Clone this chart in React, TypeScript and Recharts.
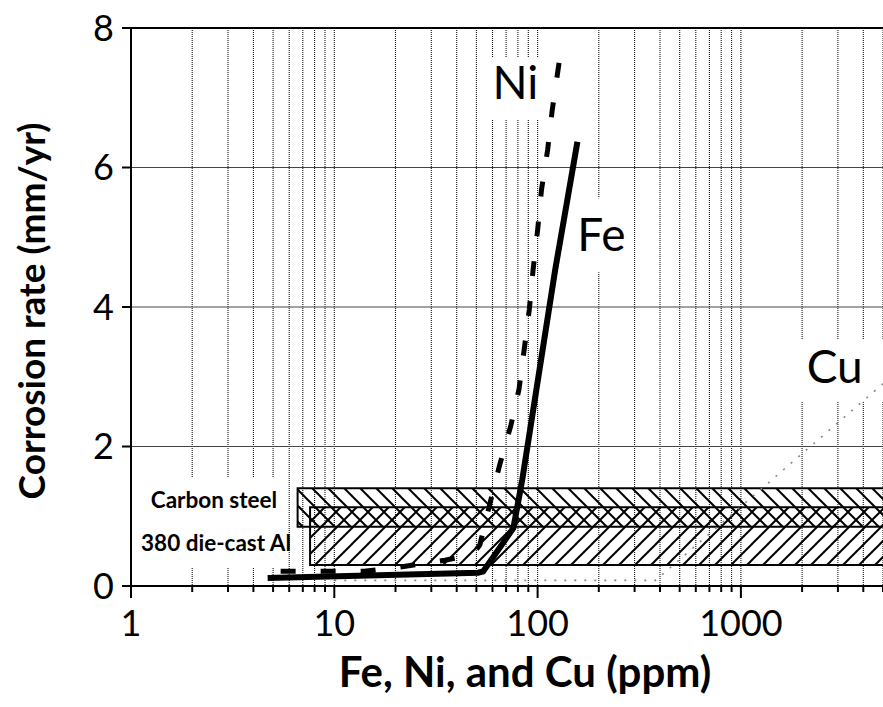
import React from "react";
import {
  LineChart,
  Line,
  XAxis,
  YAxis,
  CartesianGrid,
  ReferenceArea,
  ReferenceLine,
  ReferenceDot,
  Label,
} from "recharts";

// ppm on a log axis, corrosion rate in mm/yr
const FE_PPM = [4.7, 51, 54, 76, 84, 122, 157];
const FE_RATE = [0.115, 0.19, 0.21, 0.83, 1.52, 4.53, 6.37];

const NI_PPM = [4.7, 14, 21, 35, 48, 52, 58, 65, 74, 81, 86, 91, 95, 100, 104.5, 112, 118, 127.5];
const NI_RATE = [0.21, 0.21, 0.27, 0.37, 0.45, 0.59, 1.16, 1.73, 2.31, 2.82, 3.4, 3.96, 4.53, 5.1, 5.68, 6.25, 6.82, 7.5];

const CU_PPM = [10, 380, 5000];
const CU_RATE = [0.08, 0.08, 2.9];

const X_TICKS = [
  1, 2, 3, 4, 5, 6, 7, 8, 9,
  10, 20, 30, 40, 50, 60, 70, 80, 90,
  100, 200, 300, 400, 500, 600, 700, 800, 900,
  1000, 2000, 3000, 4000, 5000,
];
const X_MAJOR = [1, 10, 100, 1000];
const Y_TICKS = [0, 2, 4, 6, 8];

// hatched bands: [ppm from, rate low, rate high]
const CARBON_STEEL = [6.6, 0.85, 1.4];
const DIE_CAST_AL = [7.6, 0.3, 1.13];

const toRows = (xs: number[], ys: number[]) => xs.map((x, i) => ({ x, y: ys[i] }));

const feData = toRows(FE_PPM, FE_RATE);
const niData = toRows(NI_PPM, NI_RATE);
const cuData = toRows(CU_PPM, CU_RATE);

const FONT = "Lato, 'Open Sans', sans-serif";

function LogTick(props: any) {
  const { x, y, payload } = props;
  const major = X_MAJOR.includes(payload.value);
  return (
    <g>
      <line x1={x} x2={x} y1={y} y2={y + (major ? 12 : 6)} stroke="#000" strokeWidth={2} />
      {major && (
        <text x={x} y={y + 50} textAnchor="middle" fontSize={36} fill="#000" fontFamily={FONT}>
          {payload.value}
        </text>
      )}
    </g>
  );
}

const tagStyle = { fontSize: 46, fill: "#000", fontFamily: FONT };
const bandText = { fontSize: 22.5, fontWeight: 700, fill: "#000", fontFamily: FONT };

export default function App() {
  return (
    <div style={{ position: "absolute", left: 0, top: 0, fontFamily: FONT, background: "#fff" }}>
      <LineChart width={883} height={707} margin={{ top: 28, right: 0, bottom: 0, left: 0 }}>
        <defs>
          <pattern id="hatchBack" patternUnits="userSpaceOnUse" width="16" height="16">
            <path d="M-4,-4 L20,20 M-4,12 L4,20 M12,-4 L20,4" stroke="#000" strokeWidth="2" />
          </pattern>
          <pattern id="hatchFwd" patternUnits="userSpaceOnUse" width="16" height="16">
            <path d="M-4,20 L20,-4 M-4,4 L4,-4 M12,20 L20,12" stroke="#000" strokeWidth="2" />
          </pattern>
        </defs>

        <CartesianGrid horizontal={false} stroke="#111" strokeWidth={1.1} strokeDasharray="1 1" />
        <CartesianGrid vertical={false} stroke="#444" />

        <XAxis
          dataKey="x"
          type="number"
          scale="log"
          domain={[1, 5000]}
          ticks={X_TICKS}
          interval={0}
          allowDataOverflow
          height={121}
          tickLine={false}
          tickSize={0}
          tickMargin={0}
          tick={<LogTick />}
          axisLine={{ stroke: "#000", strokeWidth: 2 }}
        >
          <Label
            value="Fe, Ni, and Cu (ppm)"
            position="insideBottom"
            offset={20}
            dx={18}
            fontSize={42}
            fontWeight={700}
            fill="#000"
            fontFamily={FONT}
          />
        </XAxis>
        <YAxis
          type="number"
          domain={[0, 8]}
          ticks={Y_TICKS}
          interval={0}
          width={131}
          tickSize={9}
          tickMargin={8}
          tick={{ fontSize: 36, fill: "#000", fontFamily: FONT }}
          tickLine={{ stroke: "#000", strokeWidth: 2 }}
          axisLine={{ stroke: "#000", strokeWidth: 2 }}
        >
          <Label
            content={() => (
              <text
                transform="translate(45,311) rotate(-90)"
                textAnchor="middle"
                fontSize={37}
                fontWeight={700}
                fill="#000"
                fontFamily={FONT}
              >
                Corrosion rate (mm/yr)
              </text>
            )}
          />
        </YAxis>

        {/* white boxes behind the annotations */}
        <ReferenceArea x1={1.03} x2={5.5} y1={0.26} y2={1.56} fill="#fff" fillOpacity={1} stroke="none" ifOverflow="visible" />
        <ReferenceArea x1={55} x2={110} y1={6.68} y2={7.57} fill="#fff" fillOpacity={1} stroke="none" label={{ value: "Ni", position: "center", dy: -6, ...tagStyle }} />
        <ReferenceArea x1={148} x2={286} y1={4.5} y2={5.56} fill="#fff" fillOpacity={1} stroke="none" label={{ value: "Fe", position: "center", ...tagStyle }} />
        <ReferenceArea x1={1750} x2={6000} y1={2.64} y2={3.53} fill="#fff" fillOpacity={1} stroke="none" ifOverflow="visible" label={{ value: "Cu", position: "center", dx: -10, dy: -4, ...tagStyle }} />

        <ReferenceArea
          x1={CARBON_STEEL[0]}
          x2={6000}
          y1={CARBON_STEEL[1]}
          y2={CARBON_STEEL[2]}
          fill="url(#hatchBack)"
          fillOpacity={1}
          stroke="#000"
          strokeWidth={2}
          ifOverflow="visible"
        />
        <ReferenceArea
          x1={DIE_CAST_AL[0]}
          x2={6000}
          y1={DIE_CAST_AL[1]}
          y2={DIE_CAST_AL[2]}
          fill="url(#hatchFwd)"
          fillOpacity={1}
          stroke="#000"
          strokeWidth={2}
          ifOverflow="visible"
        />

        <ReferenceDot x={2.56} y={1.233} r={0} fill="none" stroke="none" label={{ value: "Carbon steel", position: "center", ...bandText }} />
        <ReferenceDot x={2.62} y={0.617} r={0} fill="none" stroke="none" label={{ value: "380 die-cast Al", position: "center", ...bandText }} />

        <ReferenceLine y={8} stroke="#000" strokeWidth={2} />

        <Line data={cuData} dataKey="y" type="linear" stroke="#888" strokeWidth={1.6} strokeDasharray="2 8" dot={false} isAnimationActive={false} />
        <Line data={niData} dataKey="y" type="linear" stroke="#000" strokeWidth={5} strokeDasharray="15 25" strokeDashoffset={27} dot={false} isAnimationActive={false} />
        <Line data={feData} dataKey="y" type="linear" stroke="#000" strokeWidth={6} dot={false} isAnimationActive={false} />
      </LineChart>
    </div>
  );
}
